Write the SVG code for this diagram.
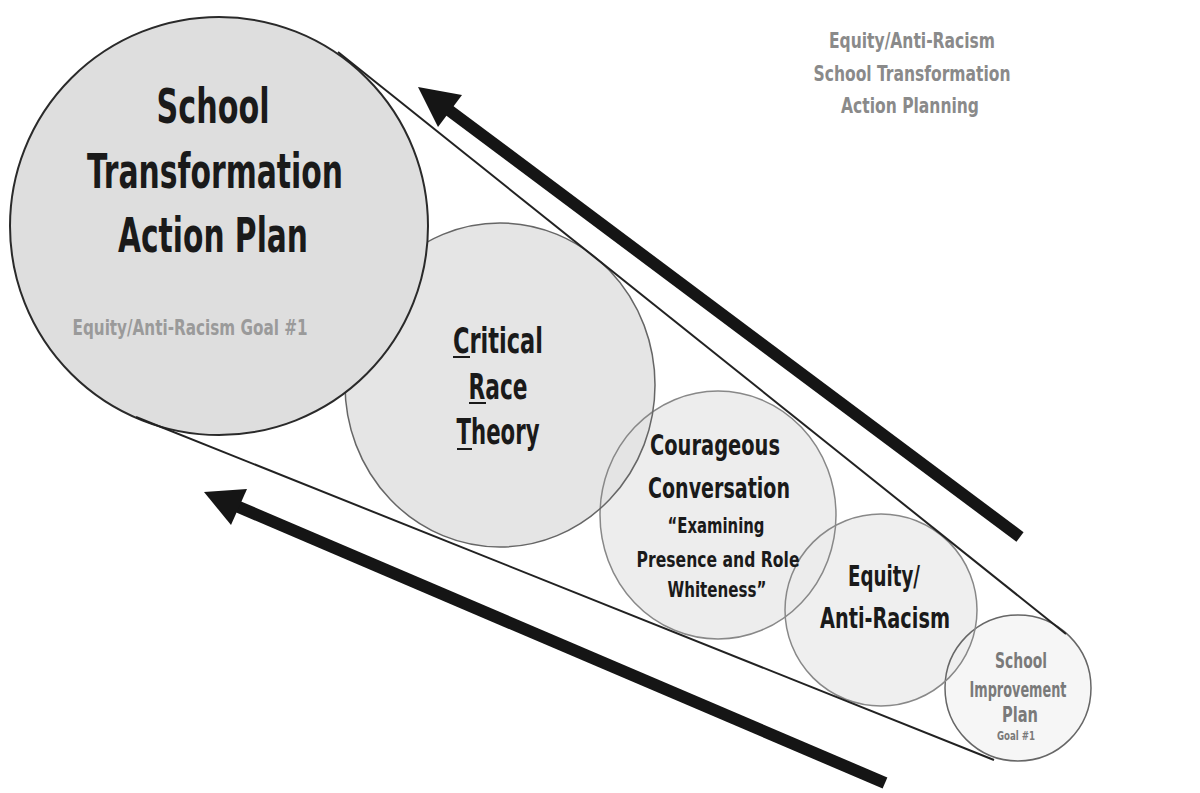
<svg xmlns="http://www.w3.org/2000/svg" width="1200" height="793" viewBox="0 0 1200 793">
<style>
.t{font-family:"Liberation Sans Narrow","DejaVu Sans Condensed","Liberation Sans",sans-serif;font-weight:bold;text-anchor:middle}
.dk{fill:#1a1a1a}
.gr{fill:#8a8a8a}
.gr2{fill:#7a7a7a}
.edge{fill:none}
.tan{stroke:#222;stroke-width:2;fill:none}
.shaft{stroke:#151515;stroke-width:12;fill:none;stroke-linecap:butt}
.head{fill:#151515}
.ul{stroke:#1a1a1a;stroke-width:2}
</style>
<rect width="1200" height="793" fill="#ffffff"/>
<g id="title">
<text class="t gr" font-size="22" x="912" y="48" textLength="166" lengthAdjust="spacingAndGlyphs">Equity/Anti-Racism</text>
<text class="t gr" font-size="22" x="912" y="81" textLength="197" lengthAdjust="spacingAndGlyphs">School Transformation</text>
<text class="t gr" font-size="22" x="910" y="113" textLength="138" lengthAdjust="spacingAndGlyphs">Action Planning</text>
</g>
<g id="fills">
<circle cx="1018" cy="688" r="73" fill="#f6f6f6"/>
<circle cx="881" cy="610" r="96" fill="#efefef"/>
<ellipse cx="718" cy="515" rx="118" ry="124" fill="#ebebeb" fill-opacity="0.9"/>
<ellipse cx="500" cy="385" rx="155" ry="162" fill="#e3e3e3" fill-opacity="0.92"/>
</g>
<g id="node-sip">
<circle cx="1018" cy="688" r="73" class="edge" stroke="#666" stroke-width="1.5"/>
<text class="t gr2" font-size="21" x="1021" y="668" textLength="52" lengthAdjust="spacingAndGlyphs">School</text>
<text class="t gr2" font-size="21" x="1018" y="697" textLength="97" lengthAdjust="spacingAndGlyphs">Improvement</text>
<text class="t gr2" font-size="21" x="1020" y="722" textLength="36" lengthAdjust="spacingAndGlyphs">Plan</text>
<text class="t gr2" font-size="13" x="1016" y="740" textLength="38" lengthAdjust="spacingAndGlyphs">Goal #1</text>
</g>
<g id="node-equity">
<circle cx="881" cy="610" r="96" class="edge" stroke="#888" stroke-width="1.5"/>
<text class="t dk" font-size="29" x="884" y="586" textLength="72" lengthAdjust="spacingAndGlyphs">Equity/</text>
<text class="t dk" font-size="29" x="885" y="628" textLength="130" lengthAdjust="spacingAndGlyphs">Anti-Racism</text>
</g>
<g id="node-courageous">
<ellipse cx="718" cy="515" rx="118" ry="124" class="edge" stroke="#888" stroke-width="1.5"/>
<text class="t dk" font-size="29" x="715" y="455" textLength="130" lengthAdjust="spacingAndGlyphs">Courageous</text>
<text class="t dk" font-size="29" x="719" y="498" textLength="142" lengthAdjust="spacingAndGlyphs">Conversation</text>
<text class="t dk" font-size="22" x="716" y="533" textLength="97" lengthAdjust="spacingAndGlyphs">“Examining</text>
<text class="t dk" font-size="22" x="718" y="567" textLength="163" lengthAdjust="spacingAndGlyphs">Presence and Role</text>
<text class="t dk" font-size="22" x="717" y="597" textLength="99" lengthAdjust="spacingAndGlyphs">Whiteness”</text>
</g>
<g id="node-crt">
<ellipse cx="500" cy="385" rx="155" ry="162" class="edge" stroke="#666" stroke-width="1.5"/>
<text class="t dk" font-size="36" x="498" y="353" textLength="90" lengthAdjust="spacingAndGlyphs">Critical</text>
<text class="t dk" font-size="36" x="498" y="399" textLength="59" lengthAdjust="spacingAndGlyphs">Race</text>
<text class="t dk" font-size="36" x="498" y="444" textLength="83" lengthAdjust="spacingAndGlyphs">Theory</text>
<line class="ul" x1="453" y1="357" x2="470" y2="357"/>
<line class="ul" x1="469" y1="403" x2="486" y2="403"/>
<line class="ul" x1="457" y1="449" x2="472" y2="449"/>
</g>
<g id="node-main">
<circle cx="219" cy="226" r="209" fill="#dedede" stroke="#2a2a2a" stroke-width="2"/>
<text class="t dk" font-size="48" x="213" y="123" textLength="113" lengthAdjust="spacingAndGlyphs">School</text>
<text class="t dk" font-size="48" x="215" y="188" textLength="256" lengthAdjust="spacingAndGlyphs">Transformation</text>
<text class="t dk" font-size="48" x="213" y="252" textLength="190" lengthAdjust="spacingAndGlyphs">Action Plan</text>
<text class="t" font-size="22" fill="#9a9a9a" x="190" y="335" textLength="235" lengthAdjust="spacingAndGlyphs">Equity/Anti-Racism Goal #1</text>
</g>
<g id="connectors">
<line class="tan" x1="338" y1="52" x2="1066" y2="634"/>
<line class="tan" x1="136" y1="417" x2="994" y2="760"/>
<line class="shaft" x1="446" y1="108" x2="1020" y2="537"/>
<polygon class="head" points="418,87 462,95 438,127"/>
<line class="shaft" x1="234" y1="505" x2="885" y2="783"/>
<polygon class="head" points="204,492 247,489 231,525"/>
</g>
</svg>
